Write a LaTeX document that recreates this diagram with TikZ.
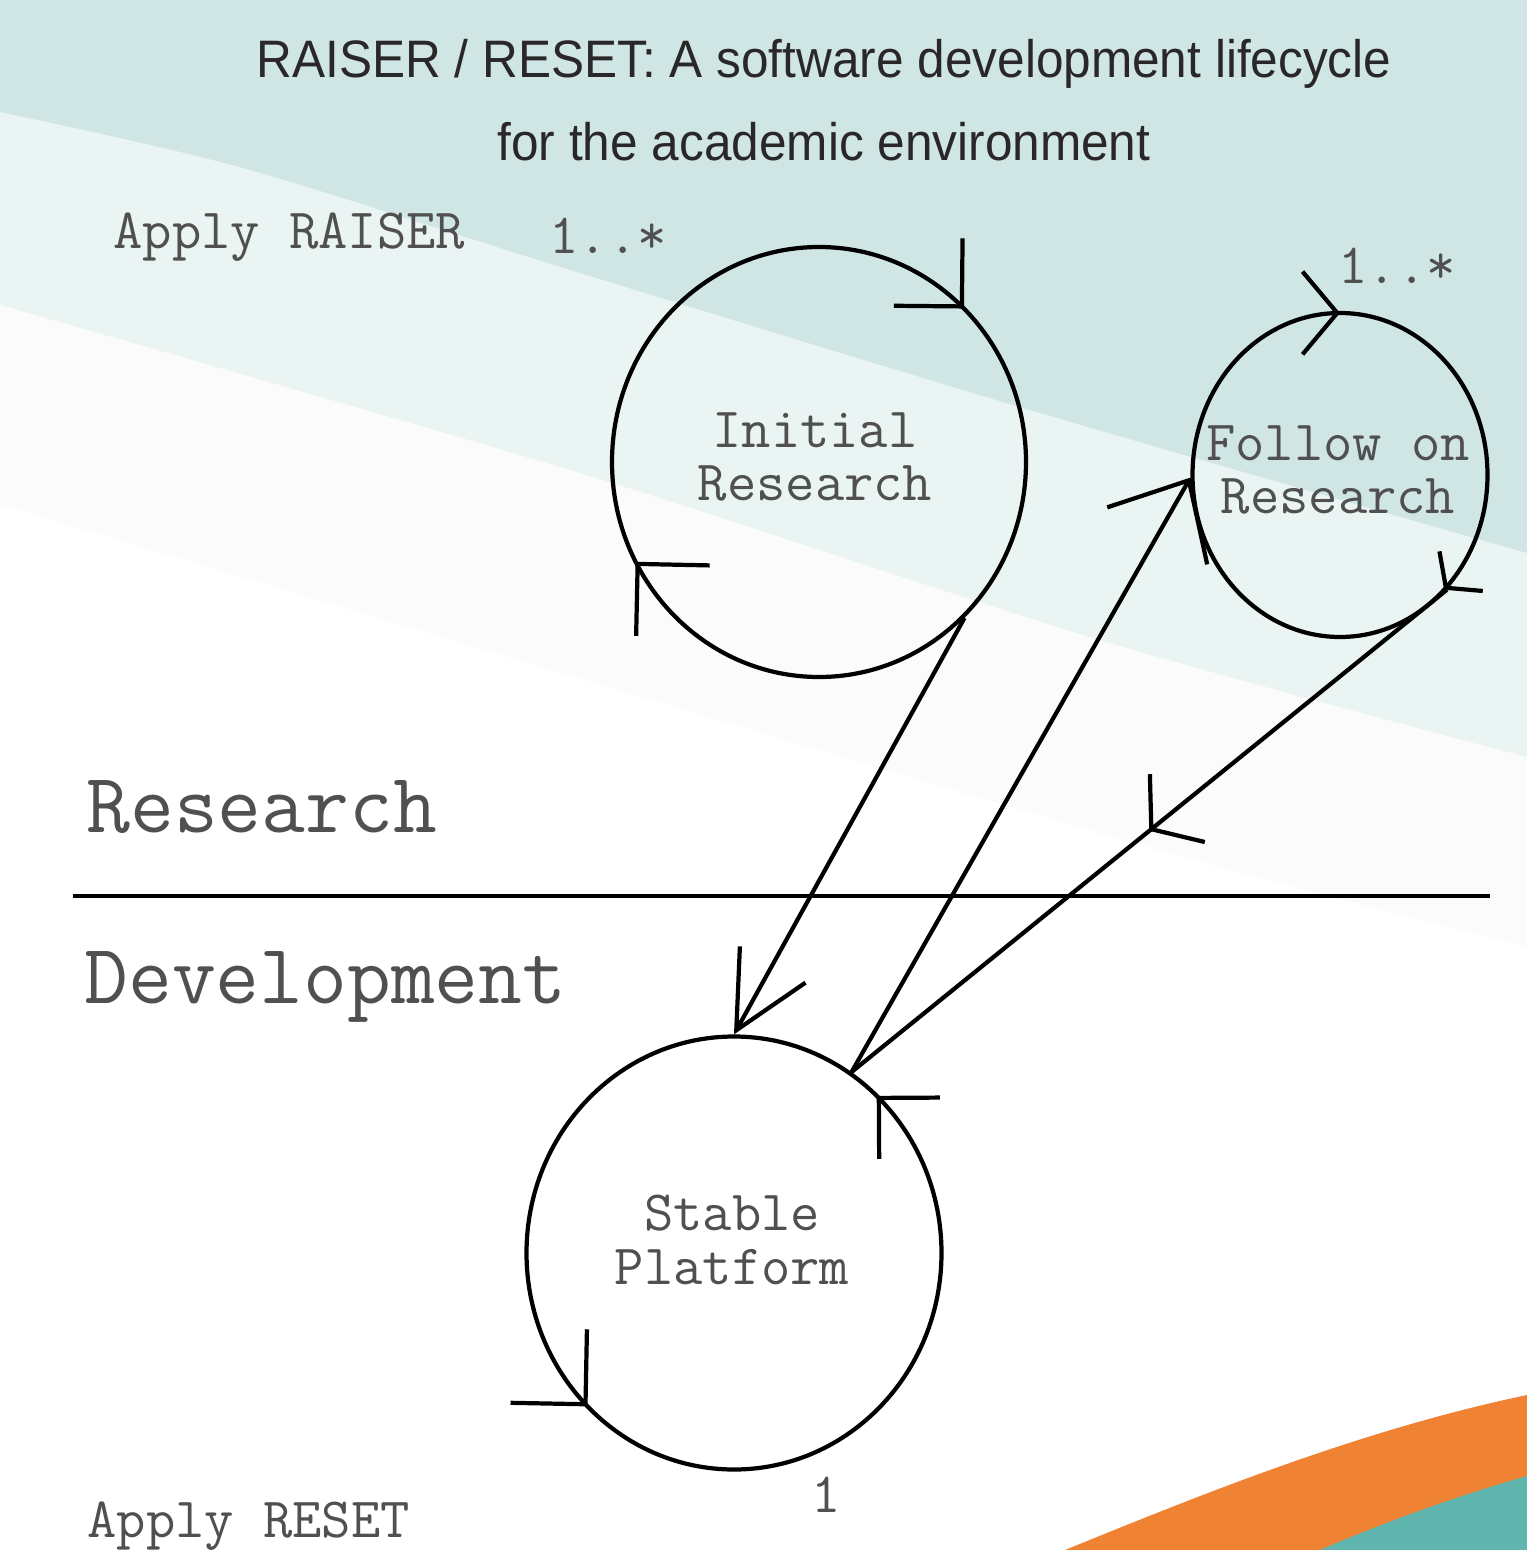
\documentclass[tikz,border=0pt]{standalone}
\usepackage{fontspec}
\newfontfamily\titlefont[FakeStretch=0.94]{Liberation Sans}
\usepackage{tikz}
\usetikzlibrary{arrows.meta}
\usetikzlibrary{shapes.geometric}
\usetikzlibrary{decorations.markings}

\definecolor{bgdark}{HTML}{D0E6E4}
\definecolor{bglight}{HTML}{EAF4F3}
\definecolor{bgpale}{HTML}{FBFBFB}
\definecolor{bandorange}{HTML}{F08233}
\definecolor{bandteal}{HTML}{60B5AE}
\definecolor{labelgray}{HTML}{505050}
\definecolor{titleink}{HTML}{2A2728}

\begin{document}
\begin{tikzpicture}[thick,
  ring/.style={draw, ellipse, line width=1.2pt, inner sep=0pt},
  ringtext/.style={font=\ttfamily\fontsize{16.2}{15.3}\selectfont, text=labelgray, align=center, inner sep=0pt},
  note/.style={font=\ttfamily\fontsize{16.2}{18}\selectfont, text=labelgray, inner sep=0pt},
  side/.style={font=\ttfamily\fontsize{24.2}{28}\selectfont, text=labelgray, inner sep=0pt},
  heading/.style={font=\titlefont\fontsize{15}{18}\selectfont, text=titleink, inner sep=0pt, anchor=base},
  flow/.style={line width=1.2pt},
  cw/.style n args={3}{postaction={decorate, decoration={markings, mark=at position #1 with {\pgftransformrotate{#3}\arrowreversed{Straight Barb[angle=#2]}}}}},
  ccw/.style 2 args={postaction={decorate, decoration={markings, mark=at position #1 with {\arrow{Straight Barb[angle=#2]}}}}},
  midbarb/.style={postaction={decorate, decoration={markings, mark=at position 0.5 with {\arrow{Straight Barb[angle=105:5.5mm]}}}}}]
\useasboundingbox (0,0) rectangle (15.27,-15.50);
\fill[white] (0,0) rectangle (15.27,-15.50);
\fill[bgpale] (15.27,0) -- (0,0) -- plot[smooth] coordinates {(0,-5.04) (11.0,-8.33) (15.27,-9.47)} -- cycle;
\fill[bglight] (15.27,0) -- (0,0) -- plot[smooth] coordinates {(0,-3.05) (5.8,-4.73) (11.0,-6.40) (15.27,-7.57)} -- cycle;
\fill[bgdark] (15.27,0) -- (0,0) -- plot[smooth] coordinates {(0,-1.12) (2.43,-1.68) (5.8,-2.73) (10.4,-4.13) (15.27,-5.53)} -- cycle;
\fill[bandorange] (10.65,-15.50) .. controls (12.0,-14.95) and (13.6,-14.30) .. (15.27,-13.95) -- (15.27,-15.50) -- cycle;
\fill[bandteal] (13.20,-15.50) .. controls (13.9,-15.20) and (14.6,-14.95) .. (15.27,-14.76) -- (15.27,-15.50) -- cycle;

\node[heading] (title) at (8.24,-0.77) {RAISER / RESET: A software development lifecycle};
\node[heading] (subtitle) at (8.24,-1.60) {for the academic environment};

\node[ring, minimum width=4.14cm, minimum height=4.30cm, cw={0.128}{90:6.8mm}{0}, cw={0.578}{90:7.2mm}{17}] (init) at (8.19,-4.62) {};
\node[ringtext] (inittext) at (8.15,-4.57) {Initial\\Research};
\node[ring, minimum width=2.95cm, minimum height=3.24cm, cw={0.25}{100:5.4mm}{0}, cw={0.871}{105:3.7mm}{0}] (follow) at (13.40,-4.75) {};
\node[ringtext] (followtext) at (13.38,-4.70) {Follow on\\Research};
\node[ring, minimum width=4.15cm, minimum height=4.33cm, ccw={0.131}{90:6.1mm}, ccw={0.627}{90:7.5mm}] (stable) at (7.34,-12.53) {};
\node[ringtext] (stabletext) at (7.32,-12.40) {Stable\\Platform};

\node[note, anchor=base west] (raiser) at (1.12,-2.48) {Apply RAISER};
\node[note, anchor=base west] (manyinit) at (5.48,-2.53) {1..*};
\node[note, anchor=base west] (manyfollow) at (13.37,-2.83) {1..*};
\node[side, anchor=base west] (research) at (0.85,-8.32) {Research};
\node[side, anchor=base west] (development) at (0.83,-10.03) {Development};
\node[note, anchor=base west] (reset) at (0.86,-15.37) {Apply RESET};
\node[note, anchor=base] (one) at (8.26,-15.12) {1};

\draw[line width=1.4pt] (0.73,-8.96) -- (14.90,-8.96);

\draw[flow, -{Straight Barb[angle=53:8.4mm]}] (init.-47) -- (stable.90);
\draw[flow, -{Straight Barb[angle=84:8.6mm]}] (stable.57) -- (follow.181);
\draw[flow, midbarb] (follow.-47) -- (stable.57);
\end{tikzpicture}
\end{document}
